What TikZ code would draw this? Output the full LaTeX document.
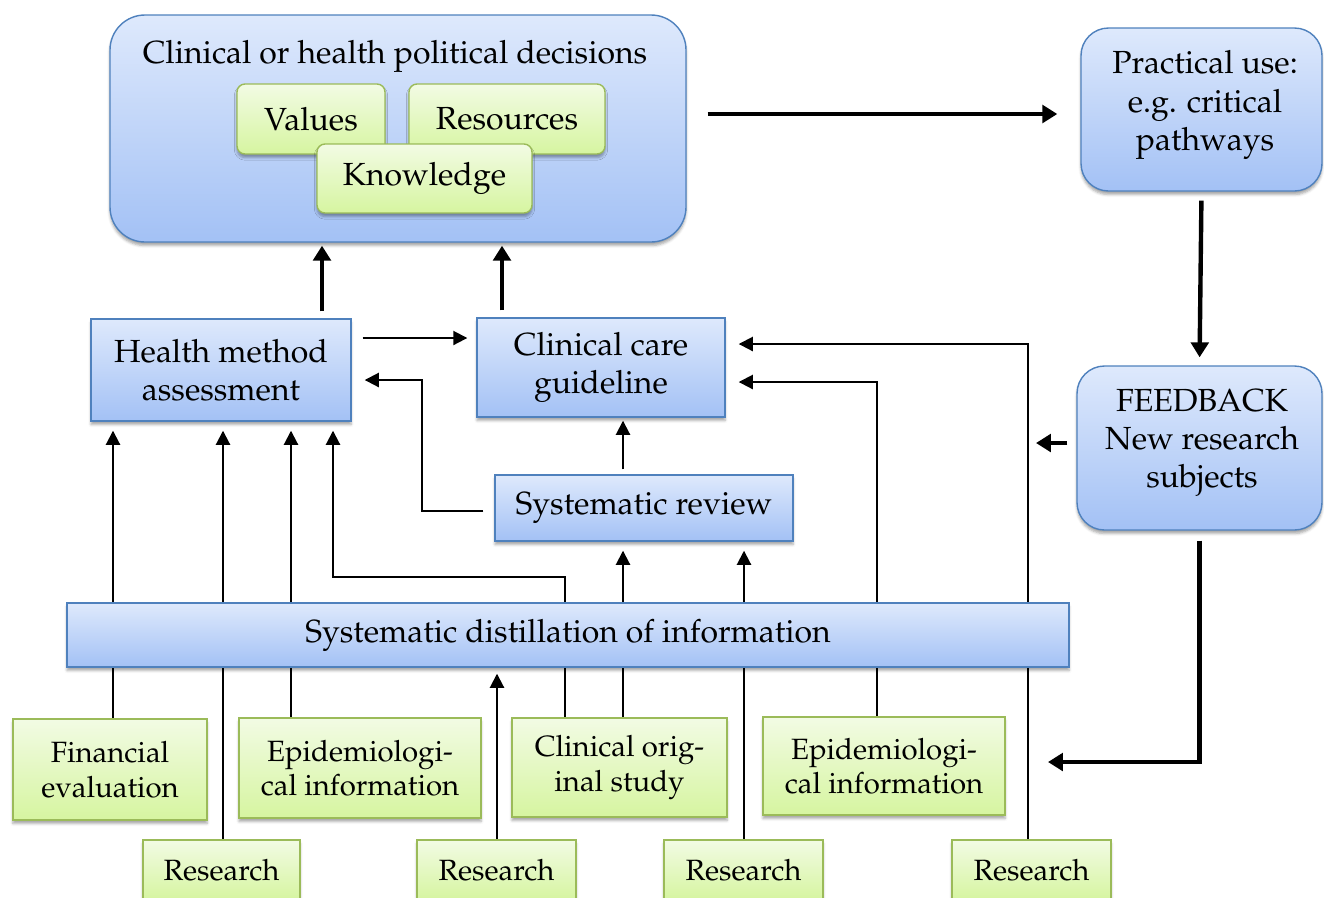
\documentclass[tikz,border=0pt]{standalone}
\usepackage[T1]{fontenc}
\usepackage{mathpazo}
\usetikzlibrary{arrows.meta,shadows.blur}

\definecolor{blueTop}{RGB}{222,233,252}
\definecolor{blueBot}{RGB}{163,193,245}
\definecolor{blueEdge}{RGB}{79,129,189}
\definecolor{greenTop}{RGB}{242,251,228}
\definecolor{greenBot}{RGB}{214,245,160}
\definecolor{greenEdge}{RGB}{155,187,89}

\pgfdeclarelayer{wires}
\pgfsetlayers{wires,main}

\tikzset{
  txt/.style={font=\fontsize{18.2}{21.8}\selectfont},
  smalltxt/.style={font=\fontsize{16.7}{19.6}\selectfont},
  wh/.style 2 args={minimum width=#1*0.02cm, minimum height=#2*0.02cm},
  card/.style={txt, inner sep=0pt, align=center, line width=0.8pt,
    blur shadow={shadow xshift=0pt, shadow yshift=-2pt, shadow blur radius=1.5pt, shadow opacity=35}},
  bluecard/.style={card, draw=blueEdge, top color=blueTop, bottom color=blueBot},
  greencard/.style={card, draw=greenEdge, top color=greenTop, bottom color=greenBot},
  sourcecard/.style={greencard, smalltxt},
  wire/.style={line width=1.1pt, -{Triangle[length=8pt,width=8pt]}},
  heavy/.style={line width=2.5pt, -{Triangle[length=8.5pt,width=10pt]}},
  title/.style={txt, inner sep=0pt},
}

\begin{document}
\begin{tikzpicture}[x=0.02cm,y=-0.02cm]
\useasboundingbox (0,0) rectangle (1324,897);

% decision box with its three components
\node[bluecard, rounded corners=0.7cm, wh={576}{227}] (big) at (398,128.5) {};
\node[title] (bigtitle) at (395,56) {Clinical or health political decisions};
\node[greencard, rounded corners=0.16cm, wh={148}{70}] (values) at (311,119) {Values};
\node[greencard, rounded corners=0.16cm, wh={196}{70}] (resources) at (507,119) {Resources};
\node[greencard, rounded corners=0.16cm, wh={215}{69}] (knowledge) at (424.5,178.5) {Knowledge};

% right column
\node[bluecard, rounded corners=0.55cm, wh={241}{163}] (prac) at (1201.5,109.5) {};
\node[title, align=center] (practxt) at (1205,105) {Practical use:\\e.g. critical\\pathways};
\node[bluecard, rounded corners=0.55cm, wh={245}{164}] (fb) at (1199.5,448) {};
\node[title, align=center] (fbtxt) at (1202,443) {FEEDBACK\\New research\\subjects};

% middle layer
\node[bluecard, wh={260}{102}] (hma) at (221,370) {Health method\\assessment};
\node[bluecard, wh={248}{99}] (ccg) at (601,367.5) {Clinical care\\guideline};
\node[bluecard, wh={298}{66}] (sr) at (644,508) {Systematic review};
\node[bluecard, wh={1002}{64}] (bar) at (568,635) {Systematic distillation of information};

% sources
\node[sourcecard, wh={194}{101}] (fin) at (110,769.5) {Financial\\evaluation};
\node[sourcecard, wh={242}{100}] (epiL) at (360,768) {Epidemiologi-\\cal information};
\node[sourcecard, wh={215}{99}] (clin) at (619.5,767.5) {Clinical orig-\\inal study};
\node[sourcecard, wh={242}{98}] (epiR) at (884,766) {Epidemiologi-\\cal information};
\node[sourcecard, wh={157}{60}] (res1) at (221.5,870) {Research};
\node[sourcecard, wh={159}{60}] (res2) at (496.5,870) {Research};
\node[sourcecard, wh={159}{60}] (res3) at (743.5,870) {Research};
\node[sourcecard, wh={159}{60}] (res4) at (1031.5,870) {Research};

% vertical lanes and horizontal rows of the wiring
\coordinate (la) at (113,0);
\coordinate (lb) at (223,0);
\coordinate (lc) at (291,0);
\coordinate (ld) at (333,0);
\coordinate (le) at (497,0);
\coordinate (lf) at (565,0);
\coordinate (lg) at (623,0);
\coordinate (lh) at (744,0);
\coordinate (li) at (877,0);
\coordinate (lj) at (1028,0);
\coordinate (lk) at (322,0);
\coordinate (ll) at (502,0);
\coordinate (lm) at (422,0);
\coordinate (ra) at (0,114);
\coordinate (rb) at (0,338);
\coordinate (rc) at (0,380);
\coordinate (rd) at (0,511);
\coordinate (re) at (0,577);
\coordinate (rf) at (0,382);
\coordinate (rg) at (0,344);
\coordinate (fbl) at (1036,443);
\coordinate (fbr) at (1048,762);

\begin{pgfonlayer}{wires}
% heavy flow
\draw[heavy, shorten <=0.42cm, shorten >=0.46cm] (big.east |- ra) -- (prac.west |- ra);
\draw[heavy, shorten <=0.18cm, shorten >=0.16cm] (prac.south) -- (fb.north);
\draw[heavy, shorten <=0.18cm] (fb.west |- fbl) -- (fbl);
\draw[heavy, shorten <=0.2cm] (fb.south) -- (fb.south |- fbr) -- (fbr);
\draw[heavy, shorten <=0.14cm, shorten >=0.06cm] (lk |- hma.north) -- (lk |- big.south);
\draw[heavy, shorten <=0.14cm, shorten >=0.06cm] (ll |- ccg.north) -- (ll |- big.south);

% middle layer links
\draw[wire, shorten <=0.22cm, shorten >=0.18cm] (hma.east |- rb) -- (ccg.west |- rb);
\draw[wire, shorten <=0.22cm, shorten >=0.26cm] (sr.west |- rd) -- (lm |- rd) -- (lm |- rc) -- (hma.east |- rc);
\draw[wire, shorten <=0.1cm, shorten >=0.06cm] (lg |- sr.north) -- (lg |- ccg.south);

% sources feeding upwards through the distillation bar
\draw[wire, shorten >=0.18cm] (la |- fin.north) -- (la |- hma.south);
\draw[wire, shorten >=0.18cm] (lb |- res1.north) -- (lb |- hma.south);
\draw[wire, shorten >=0.18cm] (lc |- epiL.north) -- (lc |- hma.south);
\draw[wire, shorten >=0.18cm] (lf |- clin.north) -- (lf |- re) -- (ld |- re) -- (ld |- hma.south);
\draw[wire, shorten >=0.12cm] (le |- res2.north) -- (le |- bar.south);
\draw[wire, shorten >=0.18cm] (lg |- clin.north) -- (lg |- sr.south);
\draw[wire, shorten >=0.18cm] (lh |- res3.north) -- (lh |- sr.south);
\draw[wire, shorten >=0.26cm] (li |- epiR.north) -- (li |- rf) -- (ccg.east |- rf);
\draw[wire, shorten >=0.26cm] (lj |- res4.north) -- (lj |- rg) -- (ccg.east |- rg);
\end{pgfonlayer}
\end{tikzpicture}
\end{document}
